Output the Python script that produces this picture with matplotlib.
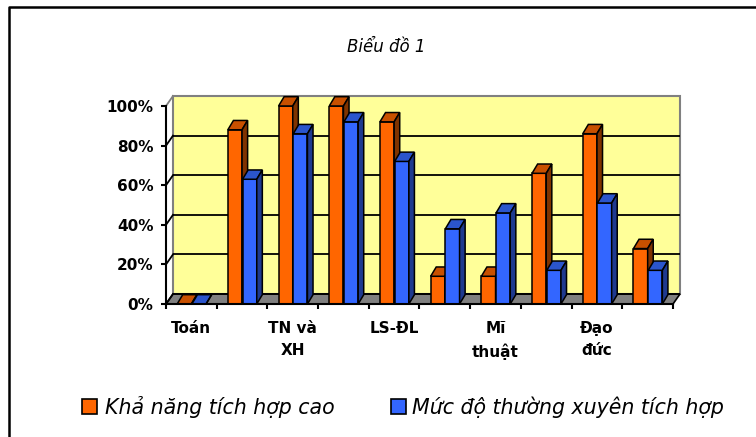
import matplotlib
matplotlib.use("Agg")
import matplotlib.pyplot as plt
from matplotlib.patches import Polygon, Rectangle
from matplotlib.lines import Line2D
import numpy as np

# ---------------- data ----------------
categories = ["Toán", "", "TN và\nXH", "", "LS-ĐL", "", "Mĩ\nthuật", "", "Đạo\nđức", ""]
kha_nang = [0, 88, 100, 100, 92, 14, 14, 66, 86, 28]
muc_do = [0, 63, 86, 92, 72, 38, 46, 17, 51, 17]
series_names = ["Khả năng tích hợp cao", "Mức độ thường xuyên tích hợp"]
yticks = [0, 20, 40, 60, 80, 100]
ytick_labels = ["0%", "20%", "40%", "60%", "80%", "100%"]
title = "Biểu đồ 1"

# ---------------- style ----------------
orange = ("#FF6600", "#C85000", "#7F3300")   # front, top, side
blue = ("#3366FF", "#2B55CC", "#1F3A8F")
wall_color = "#FFFF99"
floor_color = "#808080"

W, H = 756, 437
fig = plt.figure(figsize=(W / 100, H / 100), dpi=100)
fig.patch.set_facecolor("white")
ax = fig.add_axes([166 / W, 1 - 304 / H, (673 - 166) / W, (304 - 106) / H])
n = len(categories)
ax.set_xlim(0, n)
ax.set_ylim(0, 100)
ax.patch.set_visible(False)

DX = 7 / 507 * n
DY = 10 / 198 * 100

# back wall
ax.add_patch(Polygon([(DX, DY), (n + DX, DY), (n + DX, 100 + DY), (DX, 100 + DY)],
                     closed=True, facecolor=wall_color, edgecolor="#808080",
                     lw=1.5, clip_on=False, zorder=0))
# floor
ax.add_patch(Polygon([(0, 0), (n, 0), (n + DX, DY), (DX, DY)], closed=True,
                     facecolor=floor_color, edgecolor="black", lw=1.2,
                     clip_on=False, zorder=0.5))
# gridlines on wall and side
for v in yticks:
    col = "#808080" if v == yticks[-1] else "black"
    if v != yticks[-1]:
        ax.plot([DX, n + DX], [v + DY, v + DY], color="black", lw=1.3,
                clip_on=False, zorder=0.6, solid_capstyle="butt")
    ax.plot([0, DX], [v, v + DY], color=col, lw=1.3, clip_on=False, zorder=0.6)

# bars
bw = 0.28
offsets = (0.22, 0.51)
bdx, bdy = 0.11, 4.7
x = np.arange(n)
for vals, off, cols, z in [(kha_nang, offsets[0], orange, 2), (muc_do, offsets[1], blue, 3)]:
    ax.bar(x + off, vals, width=bw, align="edge", color=cols[0], edgecolor="black",
           lw=1.1, zorder=z)
    for xi, v in zip(x + off, vals):
        ax.add_patch(Polygon([(xi, v), (xi + bw, v), (xi + bw + bdx, v + bdy), (xi + bdx, v + bdy)],
                             closed=True, facecolor=cols[1], edgecolor="black", lw=1.1,
                             clip_on=False, zorder=z))
        ax.add_patch(Polygon([(xi + bw, 0), (xi + bw + bdx, bdy), (xi + bw + bdx, v + bdy), (xi + bw, v)],
                             closed=True, facecolor=cols[2], edgecolor="black", lw=1.1,
                             clip_on=False, zorder=z))

# axes spines / ticks
for s in ("top", "right"):
    ax.spines[s].set_visible(False)
for s in ("left", "bottom"):
    ax.spines[s].set_linewidth(1.5)
    ax.spines[s].set_zorder(5)

ax.set_yticks(yticks)
ax.set_yticklabels(ytick_labels, fontsize=11, fontweight="bold")
ax.tick_params(axis="y", length=3.6, width=1.5, pad=5.5)

ax.set_xticks(np.arange(n + 1))
ax.set_xticklabels([])
ax.set_xticks(x + 0.5, minor=True)
ax.set_xticklabels(categories, minor=True, fontsize=11, fontweight="bold")
ax.tick_params(axis="x", which="major", length=3.6, width=1.5)
ax.tick_params(axis="x", which="minor", length=0, pad=12)
for lbl in ax.get_xticklabels(minor=True):
    lbl.set_linespacing(1.6)

# title
fig.text(386 / W, 1 - 47 / H, title, ha="center", va="center", style="italic", fontsize=12)

# chart border (left and top)
fig.add_artist(Line2D([9 / W, 9 / W, 1.0], [0.0, 1 - 7 / H, 1 - 7 / H],
                      transform=fig.transFigure, color="black", lw=1.8))

# legend (manual)
leg_items = [(82, 105, orange[0], series_names[0]), (391, 412, blue[0], series_names[1])]
for sx, tx, c, name in leg_items:
    fig.add_artist(Rectangle((sx / W, 1 - 414 / H), 15 / W, 15 / H, transform=fig.transFigure,
                             facecolor=c, edgecolor="black", lw=1.2))
    fig.text(tx / W, 1 - 407 / H, name, ha="left", va="center", style="italic", fontsize=14.8)

fig.savefig("out.png", dpi=100)
